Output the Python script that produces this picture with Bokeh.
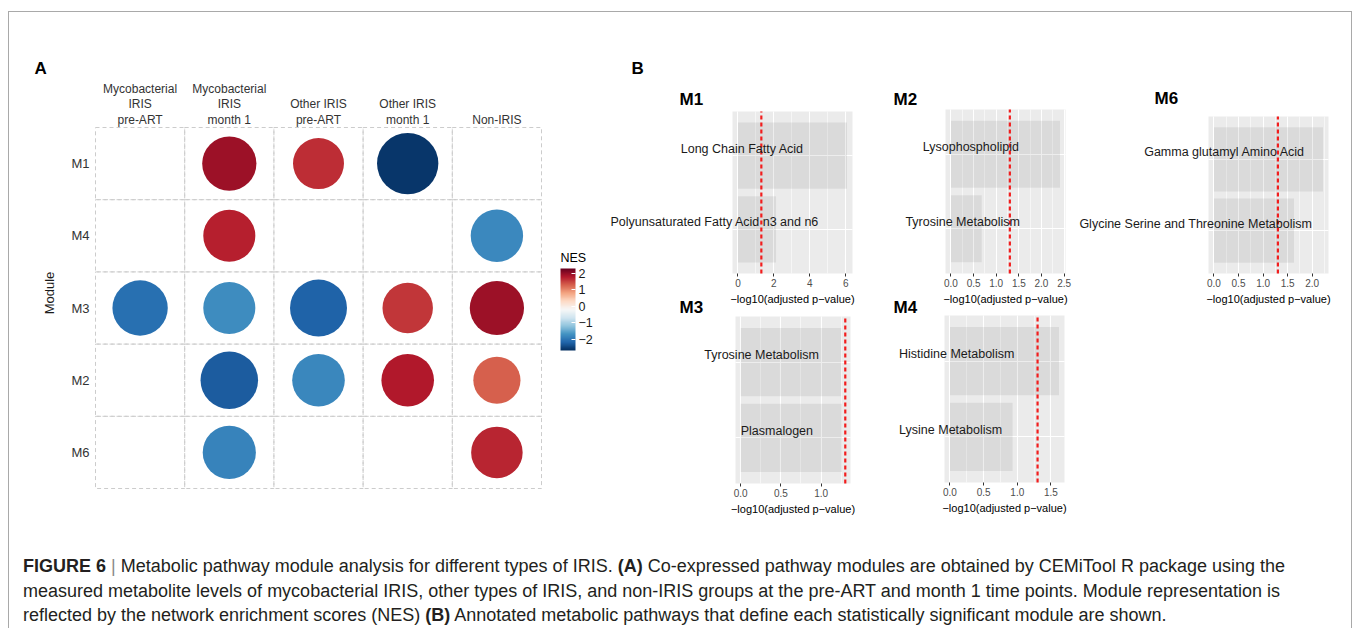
import numpy as np
from bokeh.plotting import figure
from bokeh.models import (ColumnDataSource, Range1d, LinearColorMapper, ColorBar, FixedTicker,
                          Label, LabelSet, Div, Spacer, NumeralTickFormatter, LinearAxis, Grid,
                          BoxAnnotation)
from bokeh.layouts import row, column
from bokeh.transform import linear_cmap
from bokeh.core.properties import value
from bokeh.embed import file_html
from bokeh.resources import INLINE

FONT = "Liberation Sans"

# ---------------- Panel A data ----------------
groups = ["Mycobacterial\nIRIS\npre-ART", "Mycobacterial\nIRIS\nmonth 1",
          "Other IRIS\npre-ART", "Other IRIS\nmonth 1", "Non-IRIS"]
modules = ["M1", "M4", "M3", "M2", "M6"]
nan = float("nan")
nes_M1 = [nan, 1.95, 1.65, -2.60, nan]
nes_M4 = [nan, 1.75, nan, nan, -1.78]
nes_M3 = [-2.05, -1.75, -2.20, 1.60, 1.95]
nes_M2 = [nan, -2.25, -1.80, 1.80, 1.30]
nes_M6 = [nan, -1.85, nan, nan, 1.70]
nes_limits = [-2.67, 2.30]
nes_ticks = [-2, -1, 0, 1, 2]

# ---------------- Panel B data ----------------
threshold = 1.30103  # -log10(0.05)
m1_paths = ["Long Chain Fatty Acid", "Polyunsaturated Fatty Acid n3 and n6"]
m1_vals = [6.07, 2.12]
m1_ticks = [0, 2, 4, 6]
m2_paths = ["Lysophospholipid", "Tyrosine Metabolism"]
m2_vals = [2.41, 0.68]
m2_ticks = [0, 0.5, 1.0, 1.5, 2.0, 2.5]
m6_paths = ["Gamma glutamyl Amino Acid", "Glycine Serine and Threonine Metabolism"]
m6_vals = [2.22, 1.63]
m6_ticks = [0, 0.5, 1.0, 1.5, 2.0]
m3_paths = ["Tyrosine Metabolism", "Plasmalogen"]
m3_vals = [1.25, 1.26]
m3_ticks = [0, 0.5, 1.0]
m4_paths = ["Histidine Metabolism", "Lysine Metabolism"]
m4_vals = [1.62, 0.93]
m4_ticks = [0, 0.5, 1.0, 1.5]

caption_lines = [
    "<b>FIGURE 6</b> <span style='color:#8a8a8a'>|</span> Metabolic pathway module analysis for different types of IRIS. "
    "<b>(A)</b> Co-expressed pathway modules are obtained by CEMiTool R package using the",
    "measured metabolite levels of mycobacterial IRIS, other types of IRIS, and non-IRIS groups at the pre-ART and "
    "month 1 time points. Module representation is",
    "reflected by the network enrichment scores (NES) <b>(B)</b> Annotated metabolic pathways that define each "
    "statistically significant module are shown.",
]

# ---------------- style helpers ----------------
rdbu = ["#053061", "#2166ac", "#4393c3", "#92c5de", "#d1e5f0", "#f7f7f7",
        "#fddbc7", "#f4a582", "#d6604d", "#b2182b", "#67001f"]


def interp_palette(anchors, n=256):
    rgb = np.array([[int(c[i:i + 2], 16) for i in (1, 3, 5)] for c in anchors], float)
    pos = np.linspace(0, 1, len(anchors))
    t = np.linspace(0, 1, n)
    ch = [np.interp(t, pos, rgb[:, k]) for k in range(3)]
    return ["#%02x%02x%02x" % tuple(int(round(ch[k][i])) for k in range(3)) for i in range(n)]


palette = interp_palette(rdbu)

W, H = 1342, 513   # chart canvas


def xr(lo, hi, a, b):
    """range so that data [lo, hi] falls on canvas pixels [a, b]"""
    k = (hi - lo) / (b - a)
    return Range1d(start=lo - a * k, end=lo + (W - a) * k)


def yr(lo, hi, top_px, bottom_px):
    k = (hi - lo) / (bottom_px - top_px)
    return Range1d(start=lo - (H - bottom_px) * k, end=hi + top_px * k)


p = figure(width=W, height=H, x_range=Range1d(0, W), y_range=Range1d(0, H),
           x_axis_type=None, y_axis_type=None, toolbar_location=None,
           output_backend="svg", title=None, min_border=0)
p.outline_line_color = None
xranges, yranges = {}, {}

# ---------------- Panel A ----------------
xranges["ax"] = xr(-0.5, len(groups) - 0.5, 86, 532)
yranges["ay"] = yr(-0.5, len(modules) - 0.5, 115, 476)
nes_by_module = {"M1": nes_M1, "M4": nes_M4, "M3": nes_M3, "M2": nes_M2, "M6": nes_M6}
gx = list(range(len(groups)))
my = {m: len(modules) - 1 - i for i, m in enumerate(modules)}
xs, ys, vs = [], [], []
for m in modules:
    for i, v in enumerate(nes_by_module[m]):
        if not np.isnan(v):
            xs.append(gx[i]); ys.append(my[m]); vs.append(v)
src_a = ColumnDataSource(dict(x=xs, y=ys, nes=vs, d=[33 + 10.9 * abs(v) for v in vs]))
cells = ColumnDataSource(dict(x=[g for m in modules for g in gx], y=[my[m] for m in modules for g in gx]))
p.rect(x="x", y="y", width=1, height=1, source=cells, fill_color=None, line_color="#cccccc",
       line_dash="4 3", line_width=1, x_range_name="ax", y_range_name="ay")
p.scatter(x="x", y="y", size="d", source=src_a, line_color=None, x_range_name="ax", y_range_name="ay",
          fill_color=linear_cmap("nes", palette, nes_limits[0], nes_limits[1]))

top_ax = LinearAxis(x_range_name="ax", y_range_name="ay", fixed_location=len(modules) - 0.5,
                    bounds=(-0.5, len(groups) - 0.5), ticker=FixedTicker(ticks=gx),
                    major_label_overrides={i: g for i, g in zip(gx, groups)})
left_ax = LinearAxis(x_range_name="ax", y_range_name="ay", fixed_location=-0.5,
                     bounds=(-0.08, len(modules) - 0.5), ticker=FixedTicker(ticks=sorted(my.values())),
                     major_label_overrides={my[m]: m for m in modules}, axis_label="Module")
for ax in (top_ax, left_ax):
    ax.axis_line_color = None
    ax.major_tick_line_color = None
    ax.minor_tick_line_color = None
    ax.major_tick_out = 0
    ax.major_tick_in = 0
    ax.major_label_text_font = FONT
    ax.major_label_text_color = "#333333"
top_ax.major_label_text_font_size = "12px"
top_ax.major_label_text_line_height = 1.1
top_ax.major_label_standoff = 1
left_ax.major_label_text_font_size = "13px"
left_ax.major_label_standoff = 6
left_ax.axis_label_text_font = FONT
left_ax.axis_label_text_font_size = "13px"
left_ax.axis_label_text_font_style = "normal"
left_ax.axis_label_text_color = "#1a1a1a"
left_ax.axis_label_standoff = 11
p.add_layout(top_ax, "above")
p.add_layout(left_ax, "left")

mapper = LinearColorMapper(palette=palette, low=nes_limits[0], high=nes_limits[1])
cb = ColorBar(color_mapper=mapper, ticker=FixedTicker(ticks=nes_ticks),
              major_label_overrides={t: str(t).replace("-", "\u2212") for t in nes_ticks},
              width=15, height=82,
              major_label_text_font=FONT, major_label_text_font_size="12.5px",
              major_label_text_color="#1a1a1a", label_standoff=3,
              major_tick_line_color="white", major_tick_in=4, major_tick_out=0,
              bar_line_color=None, padding=0, margin=0, background_fill_alpha=0,
              location=(551, 175))
p.add_layout(cb)
p.add_layout(Label(x=551, y=268, x_units="screen", y_units="screen", text="NES",
                   text_font=FONT, text_font_size="12.5px", text_baseline="middle",
                   text_align="left", text_color="black"))


# ---------------- Panel B ----------------
def minor_of(ticks, hi):
    step = ticks[1] - ticks[0]
    return [t + step / 2 for t in ticks if t + step / 2 <= hi]


def bar_panel(key, paths, vals, ticks, fmt, label_x, box):
    a, b, t, bt = box
    top = max(max(vals), threshold)
    pad = 0.05 * top
    xlo, xhi = -pad, top + pad
    n = len(paths)
    ypos = list(range(n, 0, -1))
    ylo, yhi = 0.4, n + 0.6
    xn, yn = key + "x", key + "y"
    xranges[xn] = xr(xlo, xhi, a, b)
    yranges[yn] = yr(ylo, yhi, t, bt)
    rn = dict(x_range_name=xn, y_range_name=yn)
    p.add_layout(BoxAnnotation(left=xlo, right=xhi, bottom=ylo, top=yhi, fill_color="#ebebeb",
                               fill_alpha=1, line_color=None, level="image", **rn))
    tk = FixedTicker(ticks=ticks, minor_ticks=minor_of(ticks, xhi))
    try:
        p.add_layout(Grid(dimension=0, ticker=tk, cross_bounds=(ylo, yhi), grid_line_color="white",
                          grid_line_width=1.1, minor_grid_line_color="white",
                          minor_grid_line_width=0.55, **rn))
        p.add_layout(Grid(dimension=1, ticker=FixedTicker(ticks=ypos), cross_bounds=(xlo, xhi),
                          grid_line_color="white", grid_line_width=1.1, **rn))
    except AttributeError:
        mt = minor_of(ticks, xhi)
        p.segment(x0=mt, x1=mt, y0=[ylo] * len(mt), y1=[yhi] * len(mt), line_color="white",
                  line_width=0.55, **rn)
        p.segment(x0=ticks, x1=ticks, y0=[ylo] * len(ticks), y1=[yhi] * len(ticks),
                  line_color="white", line_width=1.1, **rn)
        p.segment(x0=[xlo] * n, x1=[xhi] * n, y0=ypos, y1=ypos, line_color="white",
                  line_width=1.1, **rn)
    src = ColumnDataSource(dict(cat=paths, y=ypos, val=vals, lx=label_x))
    p.hbar(y="y", left=0, right="val", height=0.9, source=src,
           fill_color="black", fill_alpha=0.07, line_color=None, **rn)
    p.segment(x0=[threshold], x1=[threshold], y0=[ylo], y1=[yhi], line_color="#f21d1d",
              line_dash="4 3", line_width=2.2, **rn)
    p.add_layout(LabelSet(x="lx", y="y", text="cat", source=src, text_align="center",
                          text_baseline="bottom", text_font=value(FONT),
                          text_font_size="12.5px", text_color="#1a1a1a", **rn))
    ax = LinearAxis(fixed_location=ylo, bounds=(xlo, xhi), ticker=tk,
                    formatter=NumeralTickFormatter(format=fmt), **rn)
    ax.axis_line_color = None
    ax.major_tick_line_color = "#333333"
    ax.major_tick_out = 3
    ax.major_tick_in = 0
    ax.minor_tick_line_color = None
    ax.major_label_text_font = FONT
    ax.major_label_text_font_size = "10px"
    ax.major_label_text_color = "#4d4d4d"
    ax.major_label_standoff = 1
    ax.axis_label = "\u2212log10(adjusted p\u2212value)"
    ax.axis_label_text_font = FONT
    ax.axis_label_text_font_size = "11px"
    ax.axis_label_text_font_style = "normal"
    ax.axis_label_text_color = "black"
    ax.axis_label_standoff = 3
    p.add_layout(ax, "below")


bar_panel("m1", m1_paths, m1_vals, m1_ticks, "0", [0.24, -1.29], (723, 843, 99, 261))
bar_panel("m2", m2_paths, m2_vals, m2_ticks, "0.0", [0.44, 0.26], (936, 1056, 97, 261))
bar_panel("m6", m6_paths, m6_vals, m6_ticks, "0.0", [0.22, -0.37], (1199, 1319, 104, 261))
bar_panel("m3", m3_paths, m3_vals, m3_ticks, "0.0", [0.26, 0.45], (726, 841, 304, 471))
bar_panel("m4", m4_paths, m4_vals, m4_ticks, "0.0", [0.10, 0.01], (935, 1055, 303, 470))

p.extra_x_ranges = xranges
p.extra_y_ranges = yranges


def tag(text, x, y, size="17px"):
    p.add_layout(Label(x=x, y=y, x_units="screen", y_units="screen", text=text,
                       text_font=FONT, text_font_style="bold", text_font_size=size,
                       text_baseline="middle", text_align="left", text_color="black"))


tag("A", 25, 457)
tag("B", 622, 457)
tag("M1", 670, 426)
tag("M2", 884, 426)
tag("M6", 1145, 427)
tag("M3", 670, 218)
tag("M4", 884, 218)

cap_html = ("<div style=\"font-family:'Liberation Sans',Arial,sans-serif;font-size:18px;color:#231f20;"
            "white-space:nowrap;padding:28.5px 0 0 14px;\">"
            f"<div style='height:25px;line-height:25px'>{caption_lines[0]}</div>"
            f"<div style='height:25px;line-height:25px'>{caption_lines[1]}</div>"
            f"<div style='height:12px;line-height:12px;margin-top:5.5px'>{caption_lines[2]}</div>"
            "</div>")
cap = Div(text=cap_html, width=W, height=103, margin=0)

bg = {"background-color": "#a9a9a9"}
inner = column(Spacer(width=W, height=1, styles=bg), p, cap)
framed = row(Spacer(width=1, height=617, styles=bg), inner, Spacer(width=1, height=617, styles=bg))
root = column(Spacer(width=1352, height=11), row(Spacer(width=8, height=617), framed))

open("out.html", "w").write(file_html(root, INLINE))
